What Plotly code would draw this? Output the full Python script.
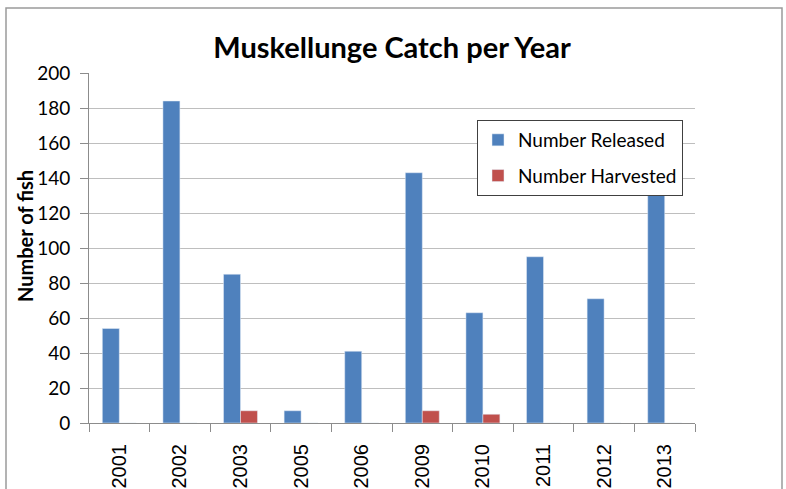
import plotly.graph_objects as go

years = ["2001", "2002", "2003", "2005", "2006", "2009", "2010", "2011", "2012", "2013"]
released = [54, 184, 85, 7, 41, 143, 63, 95, 71, 130]
harvested = [0, 0, 7, 0, 0, 7, 5, 0, 0, 0]
y_ticks = [0, 20, 40, 60, 80, 100, 120, 140, 160, 180, 200]

W, H = 786, 489
L, R, T, B = 89, 695, 73, 423

fig = go.Figure()
fig.add_trace(go.Bar(x=years, y=released, name="Number Released", marker_color="#4F81BD",
                     legendgroup="a"))
fig.add_trace(go.Bar(x=years, y=harvested, name="Number Harvested", marker_color="#C0504D",
                     legendgroup="b"))

pw, ph = R - L, B - T
def px(x):
    return (x - L) / pw
def py(y):
    return (B - y) / ph

fig.update_layout(
    width=W, height=H,
    margin=dict(l=L, r=W - R, t=T, b=H - B, autoexpand=False),
    paper_bgcolor="white", plot_bgcolor="white",
    barmode="group", bargap=0.44, bargroupgap=0.0,
    title=dict(text="<b>Muskellunge Catch per Year</b>", x=0.5, xref="paper", xanchor="center",
               y=1 - 48 / H, yanchor="middle",
               font=dict(family="Lato", size=29, color="black")),
    legend=dict(x=px(477), y=py(120), xanchor="left", yanchor="top",
                bgcolor="white", bordercolor="#404040", borderwidth=1,
                font=dict(family="Lato", size=19, color="black"),
                traceorder="grouped", tracegroupgap=8, itemwidth=30),
    showlegend=True,
    font=dict(family="Lato", color="black"),
)
fig.update_yaxes(
    range=[0, 200], tickvals=y_ticks, showgrid=True, gridcolor="#BEBEBE", gridwidth=1.2,
    showline=True, linecolor="#8C8C8C", linewidth=1,
    ticks="outside", ticklen=8, tickcolor="#8C8C8C", ticklabelstandoff=6,
    tickfont=dict(family="Lato", size=19, color="black"),
    zeroline=False,
)
fig.update_xaxes(
    type="category", tickson="boundaries", ticks="outside", ticklen=8, tickcolor="#8C8C8C",
    showline=True, linecolor="#8C8C8C", linewidth=1, showgrid=False,
    tickangle=-90, ticklabelstandoff=12,
    tickfont=dict(family="Liberation Sans", size=20, color="black"),
)
fig.add_annotation(text="<b>Number of fish</b>", xref="paper", yref="paper",
                   x=px(25), y=py(236), xanchor="center", yanchor="middle",
                   textangle=-90, showarrow=False,
                   font=dict(family="Lato", size=20, color="black"))
fig.add_shape(type="rect", xref="paper", yref="paper",
              x0=px(6), x1=px(782), y0=py(520), y1=py(8),
              line=dict(color="#9A9A9A", width=1.5), layer="below")
fig.write_html("out.html", config={"displayModeBar": False},
               post_script="document.body.style.margin='0';document.body.style.overflow='hidden';")
